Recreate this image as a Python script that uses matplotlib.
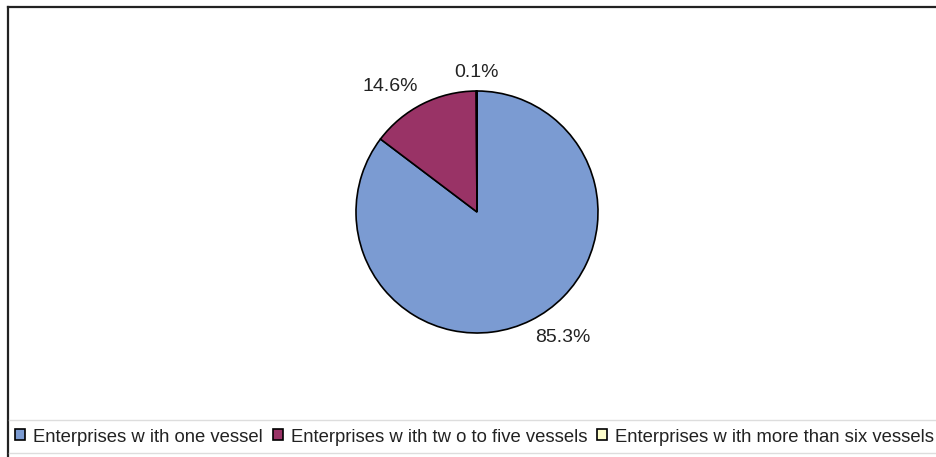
import matplotlib
matplotlib.use("Agg")
import matplotlib.pyplot as plt
from matplotlib.lines import Line2D
from matplotlib.patches import Patch
import numpy as np

plt.rcParams['font.family'] = ['Liberation Sans', 'DejaVu Sans']

categories = ["Enterprises w ith one vessel",
              "Enterprises w ith tw o to five vessels",
              "Enterprises w ith more than six vessels"]
shares = [85.3, 14.6, 0.1]
colors = ["#7B9BD2", "#993366", "#FFFFCC"]

W, H, DPI = 936, 457, 100
fig = plt.figure(figsize=(W / DPI, H / DPI), dpi=DPI)

# pie axes: centre and radius in pixels
cx, cy, r = 477, 212, 121
span = 1.5
side = 2 * span * r
ax = fig.add_axes([(cx - side / 2) / W, (H - cy - side / 2) / H, side / W, side / H])
wedges, _ = ax.pie(shares, colors=colors, startangle=90, counterclock=False,
                   wedgeprops=dict(edgecolor="black", linewidth=1.2))
ax.set_xlim(-span, span)
ax.set_ylim(-span, span)
ax.set_aspect("equal")
ax.axis("off")

# percentage labels placed just outside each wedge
for w, v in zip(wedges, shares):
    ang = np.deg2rad((w.theta1 + w.theta2) / 2)
    c, s = np.cos(ang), np.sin(ang)
    d = 1.08
    ha = "left" if c > 0.1 else ("right" if c < -0.1 else "center")
    va = "bottom" if s > 0 else "top"
    ax.text(d * c, d * s, f"{v:.1f}%", ha=ha, va=va, fontsize=14, color="#222222")

# chart frame
fig.add_artist(Line2D([8 / W, 8 / W], [0, 1 - 7 / H], color="#222222", lw=1.6,
                      transform=fig.transFigure))
fig.add_artist(Line2D([8 / W, 1], [1 - 7 / H, 1 - 7 / H], color="#222222", lw=1.6,
                      transform=fig.transFigure))
for yy in (420, 453):
    fig.add_artist(Line2D([9 / W, 1], [1 - yy / H, 1 - yy / H], color="#DDDDDD",
                          lw=1.0, transform=fig.transFigure))

handles = [Patch(facecolor=c, edgecolor="black", linewidth=1.2) for c in colors]
fig.legend(handles, categories, loc="center left", bbox_to_anchor=(15 / W, 1 - 437 / H),
           ncol=3, frameon=False, fontsize=13.3, handlelength=0.54, handleheight=0.54,
           handletextpad=0.43, columnspacing=0.54, borderaxespad=0, borderpad=0,
           labelcolor="#222222")

fig.savefig("out.png", dpi=DPI)
